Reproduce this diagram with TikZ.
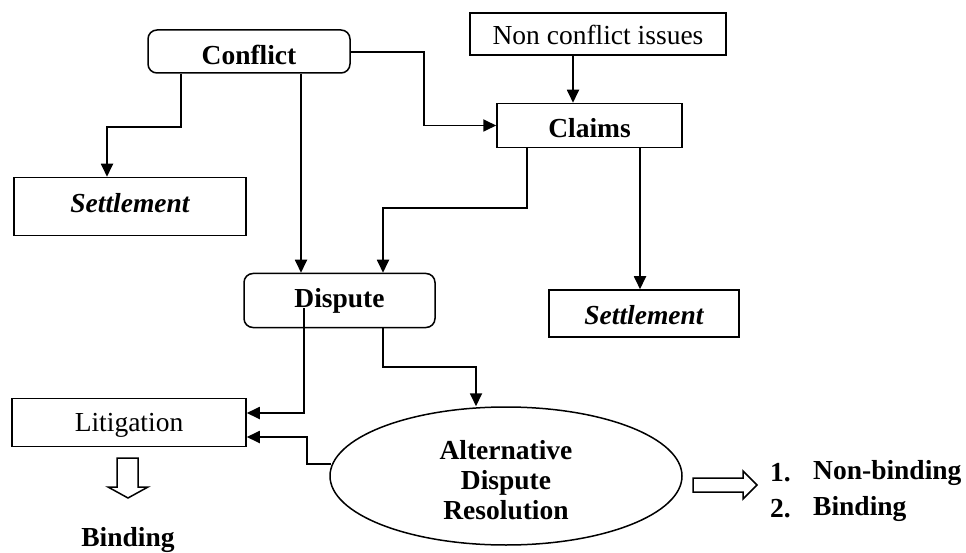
\documentclass[tikz,border=0pt]{standalone}
\usepackage{fontspec}
\setmainfont{Liberation Serif}
\usetikzlibrary{arrows.meta,shapes.geometric}
\begin{document}
\begin{tikzpicture}[x=1pt,y=-1pt,
  every node/.style={font=\fontsize{27.5}{31}\selectfont, inner sep=0pt},
  % capshift=c moves the capital letters c pt below the node centre
  capshift/.style={text height={2*(#1+9.1pt)}, text depth=0pt},
  box/.style={draw, line width=1.5pt, anchor=center},
  rbox/.style={box, rounded corners=9pt},
  bold/.style={font=\fontsize{27.5}{31}\selectfont\bfseries},
  bolditalic/.style={font=\fontsize{27.5}{31}\selectfont\bfseries\itshape},
  conn/.style={line width=1.8pt, -{Triangle[length=13pt,width=12pt]}},
  hollow/.style={draw, line width=1.5pt, fill=white, line join=miter}]
\useasboundingbox (0,0) rectangle (966,553);

% boxes
\node[rbox, bold, capshift=4pt, minimum width=202pt, minimum height=43pt] (conflict) at (249,51.5) {Conflict};
\node[box, capshift=1.5pt, minimum width=256pt, minimum height=42pt] (nonconf) at (598,34) {Non conflict issues};
\node[box, bold, capshift=2.5pt, minimum width=185pt, minimum height=44pt] (claims) at (589.5,125.5) {Claims};
\node[box, bolditalic, capshift=-3pt, minimum width=232pt, minimum height=58pt] (settleL) at (130,206.5) {Settlement};
\node[rbox, bold, capshift=-2pt, minimum width=191pt, minimum height=54pt] (dispute) at (339.5,300.5) {Dispute};
\node[box, bolditalic, capshift=2pt, minimum width=190pt, minimum height=47pt] (settleR) at (644,313.5) {Settlement};
\node[box, capshift=0pt, minimum width=234pt, minimum height=48pt] (litig) at (129,422.5) {Litigation};
\node[draw, line width=1.5pt, ellipse, minimum width=352pt, minimum height=138pt] (adr) at (506,476) {};
\node[align=center, font=\fontsize{27.5}{30}\selectfont\bfseries] (adrtext) at (506,480) {Alternative\\Dispute\\Resolution};

% bend points of the connectors
\coordinate (kA) at (181,127);
\coordinate (kB) at (107,127);
\coordinate (kC) at (301,0);
\coordinate (kD) at (424,52);
\coordinate (kE) at (573,0);
\coordinate (kF) at (527,208);
\coordinate (kG) at (383,208);
\coordinate (kH) at (640,0);
\coordinate (kI) at (304,308);
\coordinate (kJ) at (304,413);
\coordinate (kK) at (383,367);
\coordinate (kL) at (476,367);
\coordinate (kM0) at (331,464);
\coordinate (kM) at (307,464);
\coordinate (kN) at (307,437);

% connectors
\draw[conn] (conflict.south -| kA) -- (kA) -- (kB) -- (settleL.north -| kB);
\draw[conn] (conflict.south -| kC) -- (dispute.north -| kC);
\draw[conn] (conflict.east |- kD) -- (kD) |- (claims.west);
\draw[conn] (nonconf.south -| kE) -- (claims.north -| kE);
\draw[conn] (claims.south -| kF) -- (kF) -- (kG) -- (dispute.north -| kG);
\draw[conn] (claims.south -| kH) -- (settleR.north -| kH);
\draw[conn] (kI) -- (kJ) -- (litig.east |- kJ);
\draw[conn] (dispute.south -| kK) -- (kK) -- (kL) -- (adr.north -| kL);
\draw[conn] (kM0) -- (kM) -- (kN) -- (litig.east |- kN);

% outcome arrows
\draw[hollow] (117,458) -- (138,458) -- (138,487) -- (148,487) -- (128,498) -- (108,487) -- (117,487) -- cycle;
\draw[hollow] (693,478) -- (743,478) -- (743,471) -- (757,485) -- (743,499) -- (743,492) -- (693,492) -- cycle;

% outcome labels
\node[bold] (bind) at (128,540) {Binding};
\node[anchor=west, bold] (n1) at (770,473) {1.};
\node[anchor=west, bold] (t1) at (813,473) {Non-binding};
\node[anchor=west, bold] (n2) at (770,509) {2.};
\node[anchor=west, bold] (t2) at (813,509) {Binding};
\end{tikzpicture}
\end{document}
